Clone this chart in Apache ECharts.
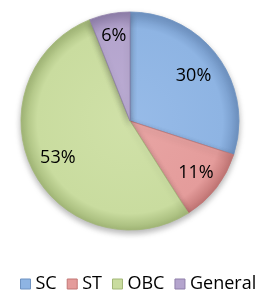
<!DOCTYPE html>
<html>
<head>
<meta charset="utf-8">
<script src="https://cdn.jsdelivr.net/npm/echarts@6/dist/echarts.min.js"></script>
<style>html,body{margin:0;padding:0;background:#fff}#c{width:269px;height:293px}</style>
</head>
<body>
<div id="c"></div>
<script>
// ---- data ----
const categories = ['SC', 'ST', 'OBC', 'General'];
const shares = [30, 11, 53, 6];

// ---- styles ----
const CX = 130, CY = 121, R = 109;
const baseColors = ['#8eb4e3', '#e49c9b', '#c9dc9f', '#b4a4cd'];
const lightColors = ['#97bbe8', '#e8a5a4', '#d0e1a8', '#bcadd4'];
const edgeColors = ['#6f93c2', '#c27675', '#a3b878', '#8f7faa'];
const labelNudge = [[-2, 2], [2, 2], [0, 0], [-1, -6]];

const chart = echarts.init(document.getElementById('c'), null, {renderer: 'canvas'});

function grad(i) {
  return {
    type: 'radial', x: CX, y: CY, r: R, global: true,
    colorStops: [
      {offset: 0, color: lightColors[i]},
      {offset: 0.85, color: baseColors[i]},
      {offset: 1, color: edgeColors[i]}
    ]
  };
}

const mainData = categories.map((n, i) => ({
  name: n, value: shares[i],
  itemStyle: {color: grad(i), borderColor: edgeColors[i]}
}));
const labelData = categories.map((n, i) => ({
  name: n, value: shares[i],
  label: {offset: labelNudge[i]}
}));

chart.setOption({
  animation: false,
  legend: {
    top: 275,
    left: 20,
    padding: 0,
    itemWidth: 10,
    itemHeight: 10,
    itemGap: 10,
    icon: 'rect',
    selectedMode: false,
    textStyle: {fontFamily: 'Open Sans', fontSize: 18, color: '#000', padding: [0, 0, 0, 0]},
    data: categories.map((n, i) => ({
      name: n,
      itemStyle: {color: baseColors[i], borderColor: edgeColors[i], borderWidth: 1}
    }))
  },
  series: [
    {
      type: 'pie',
      center: [CX, CY],
      radius: [0, R],
      startAngle: 90,
      clockwise: true,
      silent: true,
      label: {show: false},
      labelLine: {show: false},
      itemStyle: {
        borderWidth: 0.8,
        shadowBlur: 6,
        shadowOffsetY: 3,
        shadowColor: 'rgba(0,0,0,0.3)'
      },
      data: mainData
    },
    {
      type: 'pie',
      center: [CX, CY],
      radius: [47, R],
      startAngle: 90,
      clockwise: true,
      silent: true,
      itemStyle: {color: 'rgba(0,0,0,0)'},
      label: {
        show: true,
        position: 'inside',
        formatter: p => p.value + '%',
        fontFamily: 'Open Sans',
        fontSize: 18,
        color: '#000'
      },
      labelLine: {show: false},
      data: labelData
    }
  ]
});
</script>
</body>
</html>
